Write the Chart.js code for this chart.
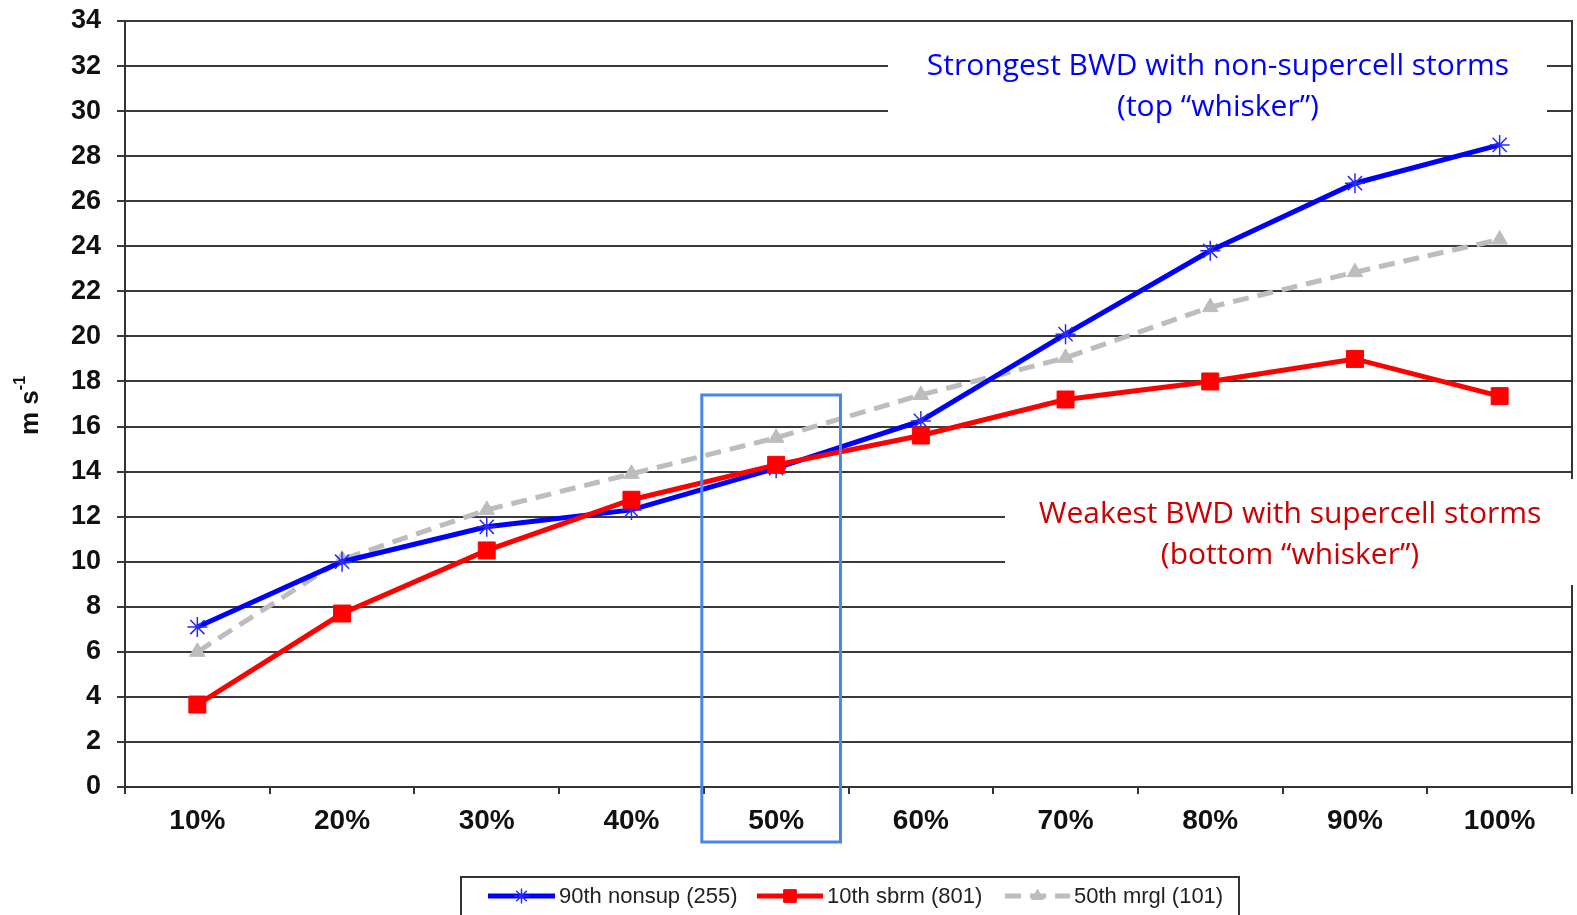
<!DOCTYPE html>
<html lang="en">
<head>
    <meta charset="UTF-8">
    <title>BWD percentiles</title>
    <script src="https://cdn.jsdelivr.net/npm/chart.js"></script>
    <style>
        body {
            margin: 0;
            padding: 0;
            overflow: hidden;
            background-color: #ffffff;
        }
        #chartContainer {
            width: 1577px;
            height: 915px;
        }
        #bwdChart {
            display: block;
        }
    </style>
</head>
<body>
    <div id="chartContainer">
        <canvas id="bwdChart"></canvas>
    </div>
    <script>
        // Data
        const categories = ['10%', '20%', '30%', '40%', '50%', '60%', '70%', '80%', '90%', '100%'];
        const nonsup90 = [7.1, 10.0, 11.55, 12.3, 14.15, 16.25, 20.1, 23.8, 26.8, 28.5];
        const sbrm10 = [3.66, 7.7, 10.5, 12.75, 14.3, 15.6, 17.2, 18.0, 19.0, 17.35];
        const mrgl50 = [6.0, 10.1, 12.3, 13.9, 15.5, 17.4, 19.05, 21.3, 22.85, 24.3];
        const seriesNames = ['90th nonsup (255)', '10th sbrm (801)', '50th mrgl (101)'];
        const yTicks = { min: 0, max: 34, step: 2 };

        const tickFont = { family: 'Liberation Sans', size: 27, weight: 'bold' };

        // drop the extra room chart.js keeps for the tick labels
        function noPad(s) {
            s.paddingTop = 0;
            s.paddingBottom = 0;
            s.paddingLeft = 0;
            s.paddingRight = 0;
        }

        // white boxes with the notes, drawn over the grid
        const notesPlugin = {
            id: 'notes',
            beforeDatasetsDraw(chart) {
                const c = chart.ctx;
                c.save();
                c.fillStyle = '#ffffff';
                c.fillRect(888, 38, 659, 94);
                c.fillRect(1005, 479, 572, 106);
                c.textAlign = 'center';
                c.textBaseline = 'middle';
                c.font = '30px "Open Sans"';
                c.fillStyle = '#0000ff';
                c.fillText('Strongest BWD with non-supercell storms', 1218, 66);
                c.fillText('(top \u201cwhisker\u201d)', 1218, 107);
                c.fillStyle = '#cc0000';
                c.fillText('Weakest BWD with supercell storms', 1290, 514);
                c.fillText('(bottom \u201cwhisker\u201d)', 1290, 555);
                c.restore();
            },
            afterDraw(chart) {
                const c = chart.ctx;
                const x = chart.scales.x;
                const y = chart.scales.y;
                const half = (x.getPixelForValue(1) - x.getPixelForValue(0)) / 2;
                c.save();

                // highlight around 50%
                const cx = x.getPixelForValue(4);
                const top = y.getPixelForValue(17.4);
                c.strokeStyle = '#4a86e8';
                c.lineWidth = 3;
                c.strokeRect(cx - half - 2, top, 2 * half - 6, 842 - top);

                // y axis title
                c.fillStyle = '#111';
                c.translate(31, 406);
                c.rotate(-Math.PI / 2);
                c.textBaseline = 'middle';
                c.textAlign = 'left';
                c.font = 'bold 26px "Liberation Sans"';
                c.fillText('m s', -29, 0);
                const w = c.measureText('m s').width;
                c.font = 'bold 16px "Liberation Sans"';
                c.fillText('-1', -29 + w, -10);
                c.setTransform(1, 0, 0, 1, 0, 0);

                // legend
                c.strokeStyle = '#333';
                c.lineWidth = 2;
                c.strokeRect(461, 877, 778, 60);
                const items = [
                    { x: 488, len: 67, ds: chart.data.datasets[0] },
                    { x: 757, len: 66, ds: chart.data.datasets[1] },
                    { x: 1005, len: 65, ds: chart.data.datasets[2] }
                ];
                c.font = '22px "Liberation Sans"';
                c.textBaseline = 'middle';
                c.textAlign = 'left';
                items.forEach(it => {
                    const ly = 896;
                    c.save();
                    c.strokeStyle = it.ds.borderColor;
                    c.lineWidth = 5;
                    c.setLineDash(it.ds.borderDash || []);
                    c.beginPath();
                    c.moveTo(it.x, ly);
                    c.lineTo(it.x + it.len, ly);
                    c.stroke();
                    c.restore();
                    c.save();
                    c.fillStyle = it.ds.pointBackgroundColor;
                    c.strokeStyle = it.ds.pointBorderColor;
                    c.lineWidth = it.ds.pointBorderWidth;
                    Chart.helpers.drawPoint(c, {
                        pointStyle: it.ds.pointStyle,
                        radius: it.ds.pointRadius * 0.75,
                        rotation: 0,
                        borderWidth: it.ds.pointBorderWidth
                    }, it.x + it.len / 2, ly);
                    c.restore();
                    c.fillStyle = '#222';
                    c.fillText(it.ds.label, it.x + it.len + 4, ly + 1);
                });
                c.restore();
            }
        };

        const ctx = document.getElementById('bwdChart').getContext('2d');
        const chart = new Chart(ctx, {
            type: 'line',
            data: {
                labels: categories,
                datasets: [{
                    label: seriesNames[0],
                    data: nonsup90,
                    borderColor: '#0000ff',
                    borderWidth: 5,
                    pointStyle: 'star',
                    pointRadius: 10,
                    pointBorderColor: '#2a2aff',
                    pointBackgroundColor: '#2a2aff',
                    pointBorderWidth: 1.5,
                    tension: 0,
                    order: 1
                }, {
                    label: seriesNames[1],
                    data: sbrm10,
                    borderColor: '#ff0000',
                    borderWidth: 5,
                    pointStyle: 'rect',
                    pointRadius: 12,
                    pointBorderColor: '#ff0000',
                    pointBackgroundColor: '#ff0000',
                    pointBorderWidth: 1,
                    tension: 0,
                    order: 0
                }, {
                    label: seriesNames[2],
                    data: mrgl50,
                    borderColor: '#bdbdbd',
                    borderWidth: 5,
                    borderDash: [16, 9],
                    pointStyle: 'triangle',
                    pointRadius: 9,
                    pointBorderColor: '#bdbdbd',
                    pointBackgroundColor: '#bdbdbd',
                    pointBorderWidth: 1,
                    tension: 0,
                    order: 2
                }]
            },
            options: {
                responsive: true,
                maintainAspectRatio: false,
                animation: false,
                layout: {
                    autoPadding: false,
                    padding: { top: 21, right: 0, left: 0, bottom: 0 }
                },
                plugins: {
                    legend: { display: false },
                    tooltip: { enabled: false }
                },
                scales: {
                    x: {
                        type: 'category',
                        offset: true,
                        afterFit: s => { s.height = 128; noPad(s); },
                        grid: {
                            offset: true,
                            drawOnChartArea: false,
                            drawTicks: true,
                            tickLength: 7,
                            color: '#333',
                            lineWidth: 2
                        },
                        border: { color: '#333', width: 2 },
                        ticks: {
                            color: '#111',
                            font: { family: 'Liberation Sans', size: 28, weight: 'bold' },
                            padding: 10,
                            maxRotation: 0
                        }
                    },
                    y: {
                        min: yTicks.min,
                        max: yTicks.max,
                        afterFit: s => { s.width = 125; noPad(s); },
                        grid: {
                            color: '#3a3a3a',
                            lineWidth: 2,
                            drawTicks: true,
                            tickLength: 8
                        },
                        border: { color: '#333', width: 2 },
                        ticks: {
                            stepSize: yTicks.step,
                            color: '#111',
                            font: tickFont,
                            padding: 16
                        }
                    },
                    y2: {
                        position: 'right',
                        min: yTicks.min,
                        max: yTicks.max,
                        afterFit: s => { s.width = 5; noPad(s); },
                        grid: { drawOnChartArea: false, drawTicks: false },
                        border: { color: '#333', width: 2 },
                        ticks: { display: false }
                    }
                }
            },
            plugins: [notesPlugin]
        });
    </script>
</body>
</html>
